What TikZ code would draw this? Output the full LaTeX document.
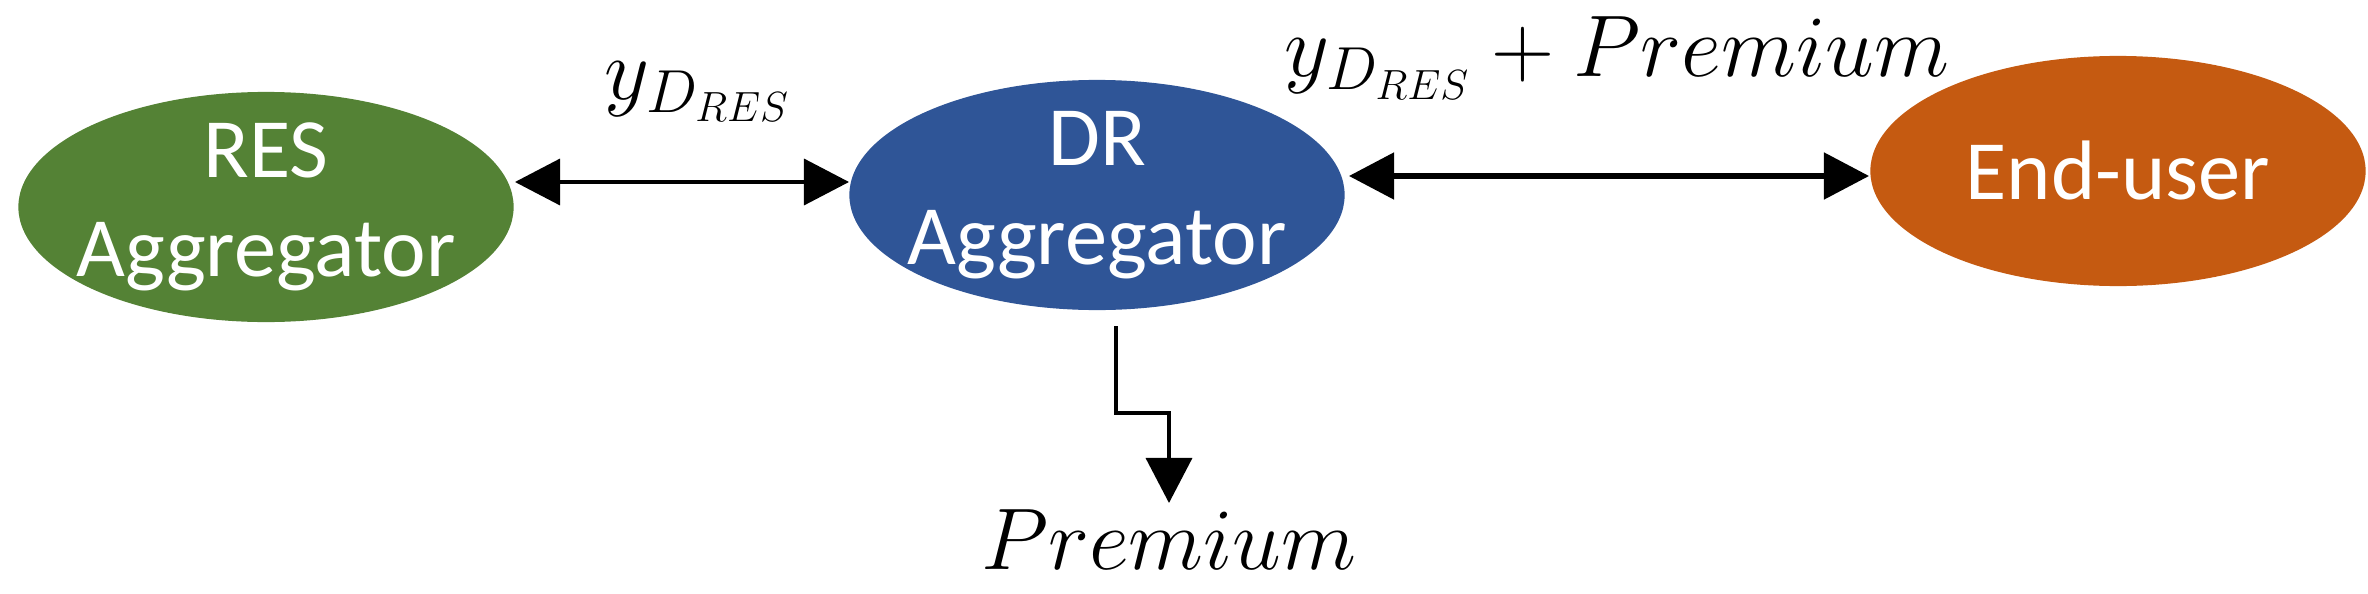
\documentclass[tikz,border=0pt]{standalone}
\usepackage{fontspec}
\setmainfont{Carlito}
\usetikzlibrary{arrows.meta,shapes.geometric}
\definecolor{cgreen}{HTML}{548235}
\definecolor{cblue}{HTML}{2F5597}
\definecolor{corange}{HTML}{C55A11}
\begin{document}
\begin{tikzpicture}[x=0.01cm,y=-0.01cm,
  agg/.style={ellipse,draw=none,inner sep=0pt,minimum width=4.95cm,minimum height=2.3cm},
  txt/.style={text=white,align=center,font=\fontsize{24}{28}\selectfont},
  tip/.style={{Triangle[length=0.45cm,width=0.46cm]}-{Triangle[length=0.45cm,width=0.46cm]}},
  lab/.style={font=\fontsize{24}{28}\selectfont}]
\useasboundingbox (0,0) rectangle (2368,594);
\node[agg,fill=cgreen] (res) at (266,207) {};
\node[txt] (rest) at (res) {RES\\Aggregator};
\node[agg,fill=cblue] (dr) at (1097,195) {};
\node[txt] (drt) at (dr) {DR\\Aggregator};
\node[agg,fill=corange] (eu) at (2118,171) {};
\node[txt] (eut) at (eu) {End-user};
\coordinate (a1) at (515,182);
\coordinate (b1) at (849,182);
\draw[tip,line width=0.035cm] (a1) -- (b1);
\coordinate (a2) at (1349,176);
\coordinate (b2) at (1869,176);
\draw[tip,line width=0.05cm] (a2) -- (b2);
\coordinate (d0) at (1116,326);
\coordinate (d1) at (1116,413);
\coordinate (d2) at (1169,413);
\coordinate (d3) at (1169,503);
\draw[line width=0.035cm,-{Triangle[length=0.45cm,width=0.46cm]}] (d0) -- (d1) -- (d2) -- (d3);
\node[lab] (l1) at (698,92) {$y_{D_{RES}}$};
\node[lab] (l2) at (1617,58) {$y_{D_{RES}}+Premium$};
\node[lab] (l3) at (1169,540) {$Premium$};
\end{tikzpicture}
\end{document}
